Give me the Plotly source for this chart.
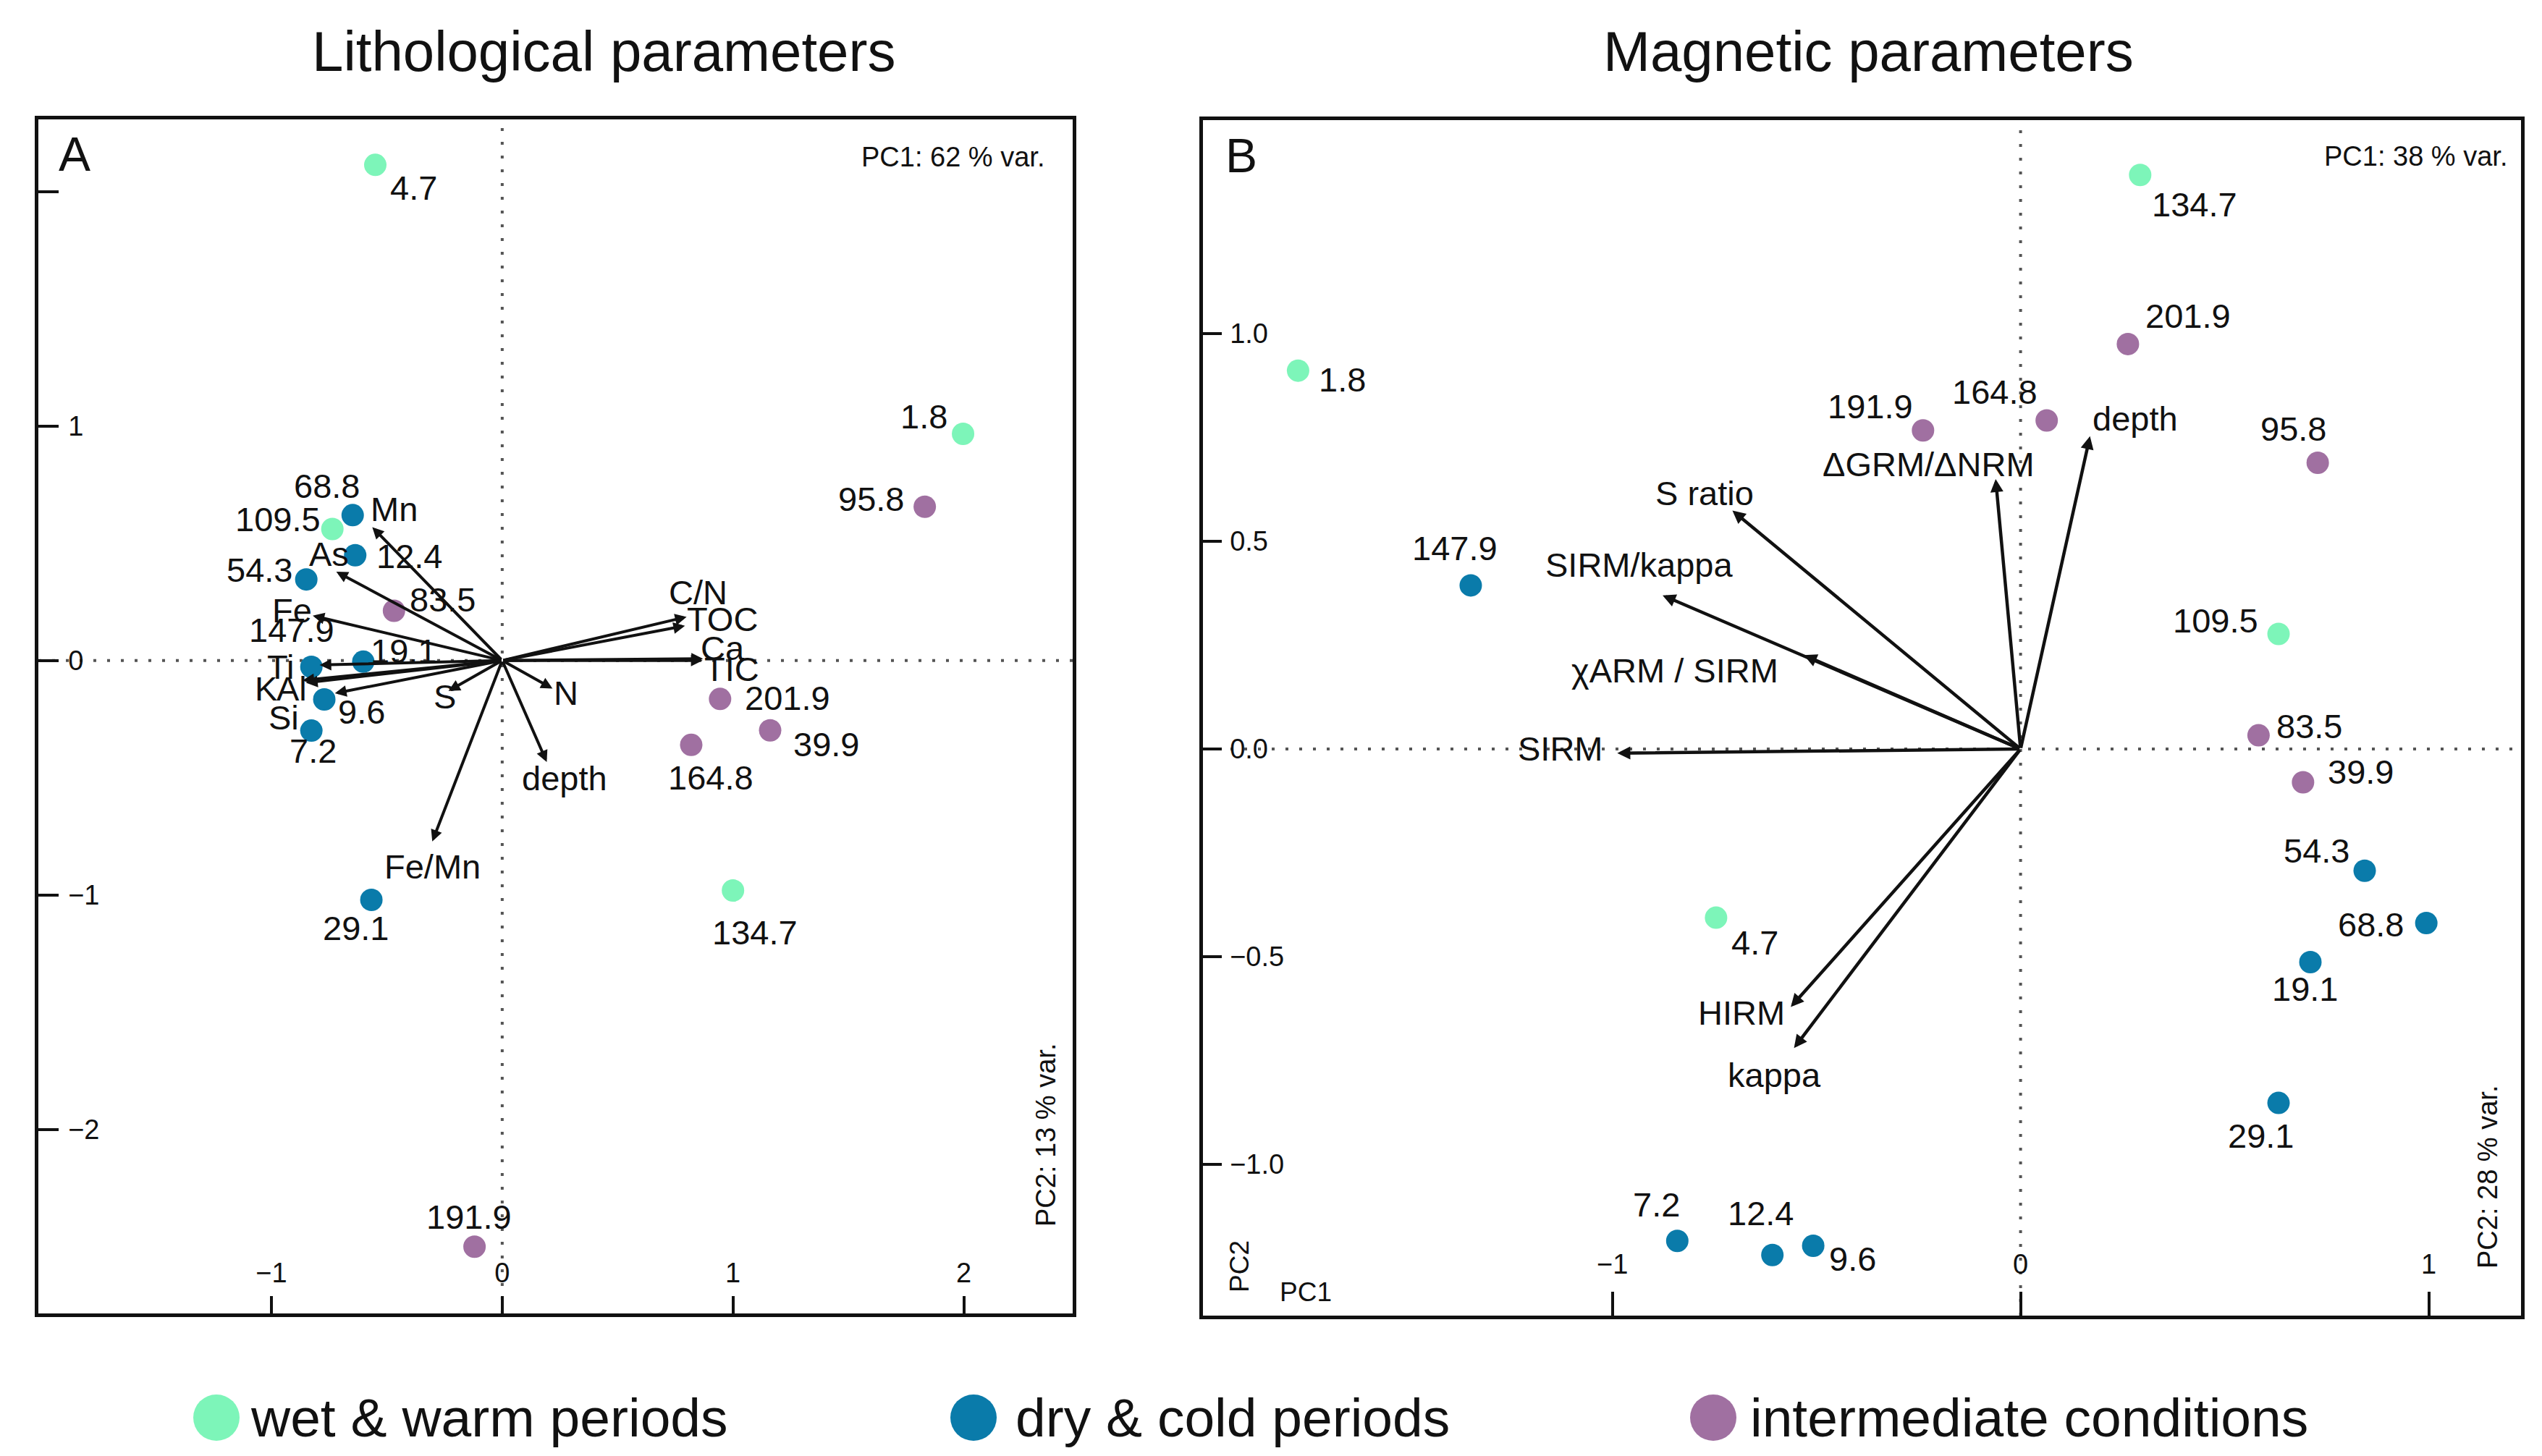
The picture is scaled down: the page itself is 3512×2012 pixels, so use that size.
import plotly.graph_objects as go

W, H = 3512, 2012
FONT = "Liberation Sans, Arial, sans-serif"

# ---------------- data ----------------
group_names = ["wet & warm periods", "dry & cold periods", "intermediate conditions"]
group_colors = ["#7DF5B9", "#0A7BAA", "#A070A1"]

# sample depth label -> group index
sample_group = {
    "1.8": 0, "4.7": 0, "109.5": 0, "134.7": 0,
    "7.2": 1, "9.6": 1, "12.4": 1, "19.1": 1, "29.1": 1, "54.3": 1, "68.8": 1, "147.9": 1,
    "39.9": 2, "83.5": 2, "95.8": 2, "164.8": 2, "191.9": 2, "201.9": 2,
}

# Panel A - lithological parameters (PCA scores)
lith_ids = ["4.7", "1.8", "95.8", "68.8", "109.5", "12.4", "54.3", "83.5", "147.9",
            "19.1", "9.6", "7.2", "201.9", "39.9", "164.8", "134.7", "29.1", "191.9"]
lith_pc1 = [-0.550, 1.997, 1.831, -0.648, -0.736, -0.637, -0.849, -0.469, -0.827,
            -0.602, -0.771, -0.827, 0.944, 1.161, 0.819, 1.000, -0.567, -0.120]
lith_pc2 = [2.114, 0.967, 0.656, 0.620, 0.561, 0.449, 0.346, 0.212, -0.027,
            -0.005, -0.166, -0.299, -0.164, -0.298, -0.360, -0.981, -1.021, -2.500]

# Panel A - loadings (arrow tips)
lith_vars = ["Mn", "As", "Fe", "Ti", "K", "Al", "Si", "S", "N", "depth", "Fe/Mn",
             "C/N", "TOC", "Ca", "TIC"]
lith_load1 = [-0.563, -0.719, -0.821, -0.791, -0.865, -0.850, -0.725, -0.233, 0.218,
              0.193, -0.303, 0.799, 0.792, 0.870, 0.868]
lith_load2 = [0.569, 0.379, 0.191, -0.019, -0.085, -0.095, -0.140, -0.130, -0.120,
              -0.433, -0.772, 0.186, 0.148, 0.008, 0.000]

# Panel B - magnetic parameters (PCA scores)
mag_ids = ["134.7", "201.9", "1.8", "191.9", "164.8", "95.8", "147.9", "109.5", "83.5",
           "39.9", "54.3", "68.8", "19.1", "4.7", "29.1", "7.2", "12.4", "9.6"]
mag_pc1 = [0.293, 0.263, -1.770, -0.239, 0.064, 0.728, -1.347, 0.632, 0.583,
           0.692, 0.843, 0.994, 0.710, -0.746, 0.632, -0.841, -0.608, -0.508]
mag_pc2 = [1.382, 0.975, 0.911, 0.767, 0.791, 0.689, 0.394, 0.277, 0.033,
           -0.080, -0.293, -0.419, -0.513, -0.406, -0.852, -1.184, -1.218, -1.196]

# Panel B - loadings (arrow tips)
mag_vars = ["depth", "ΔGRM/ΔNRM", "S ratio", "SIRM/kappa", "χARM / SIRM", "SIRM", "HIRM", "kappa"]
mag_load1 = [0.170, -0.061, -0.706, -0.877, -0.531, -0.988, -0.563, -0.555]
mag_load2 = [0.753, 0.650, 0.574, 0.370, 0.226, -0.010, -0.621, -0.720]

# axis tick labels
lith_xticks = [-1, 0, 1, 2]
lith_xtext = ["−1", "0", "1", "2"]
lith_yticks = [-2, -1, 0, 1, 2]
lith_ytext = ["−2", "−1", "0", "1", ""]
mag_xticks = [-1, 0, 1]
mag_xtext = ["−1", "0", "1"]
mag_yticks = [-1.0, -0.5, 0.0, 0.5, 1.0]
mag_ytext = ["−1.0", "−0.5", "0.0", "0.5", "1.0"]

# ---------------- label placement (pixel offsets, style only) ----------------
lith_pt_off = [(53, -32), (-54, 24), (-74, 11), (-36, 40), (-75, 13), (75, -1), (-65, 13),
               (67, 16), (-27, 51), (56, 15), (51, -17), (2, -28), (93, 1), (77, -19),
               (27, -45), (30, -58), (-22, -39), (-8, 41)]
lith_var_off = [(30, 25), (-10, 24), (-29, 7), (-54, -3), (-51, -11), (-20, -8), (-71, -33),
                (-5, -8), (19, -6), (25, -22), (0, -35), (16, 34), (52, 9), (27, 15), (40, -12)]
mag_pt_off = [(75, -41), (83, 39), (61, -12), (-73, 33), (-72, 40), (-34, 47), (-22, 51),
              (-87, 19), (70, 13), (80, 14), (-67, 28), (-77, -2), (-8, -37), (54, -34),
              (-25, -45), (-29, 50), (-16, 58), (54, -18)]
mag_var_off = [(63, 24), (-93, 20), (-38, 24), (-33, 42), (-178, -21), (-78, 6), (-68, -8), (-27, -37)]

LABEL_SIZE = 47
MARKER_SIZE = 31


def px(x):
    return x / W


def py(y):
    return 1 - y / H


fig = go.Figure()
annotations = []
shapes = []


def add_panel(ids, pc1, pc2, vars_, l1, l2, pt_off, var_off, xa, ya, arrow_w):
    # arrows
    for v, a, b, (dx, dy) in zip(vars_, l1, l2, var_off):
        annotations.append(dict(
            x=a, y=b, ax=0, ay=0, xref=xa, yref=ya, axref=xa, ayref=ya,
            text="", showarrow=True, arrowhead=2, arrowsize=0.8, arrowwidth=arrow_w,
            arrowcolor="#111111", standoff=0, startstandoff=0))
        annotations.append(dict(
            x=a, y=b, xref=xa, yref=ya, text=v, showarrow=False,
            xshift=dx, yshift=dy, xanchor="center", yanchor="middle",
            font=dict(family=FONT, size=LABEL_SIZE, color="#111111")))
    # points
    for g, name in enumerate(group_names):
        idx = [i for i, s in enumerate(ids) if sample_group[s] == g]
        fig.add_trace(go.Scatter(
            x=[pc1[i] for i in idx], y=[pc2[i] for i in idx],
            mode="markers", name=name, showlegend=False, hoverinfo="skip",
            marker=dict(size=MARKER_SIZE, color=group_colors[g], line=dict(width=0)),
            xaxis=xa, yaxis=ya))
    for s, a, b, (dx, dy) in zip(ids, pc1, pc2, pt_off):
        annotations.append(dict(
            x=a, y=b, xref=xa, yref=ya, text=s, showarrow=False,
            xshift=dx, yshift=dy, xanchor="center", yanchor="middle",
            font=dict(family=FONT, size=LABEL_SIZE, color="#111111")))
    # dotted zero lines
    shapes.append(dict(type="line", xref=xa, yref=ya + " domain", x0=0, x1=0, y0=0, y1=1,
                       line=dict(color="#555555", width=4, dash="4px,15px"), layer="below"))
    shapes.append(dict(type="line", xref=xa + " domain", yref=ya, x0=0, x1=1, y0=0, y1=0,
                       line=dict(color="#555555", width=4, dash="4px,15px"), layer="below"))


add_panel(lith_ids, lith_pc1, lith_pc2, lith_vars, lith_load1, lith_load2,
          lith_pt_off, lith_var_off, "x", "y", 4)
add_panel(mag_ids, mag_pc1, mag_pc2, mag_vars, mag_load1, mag_load2,
          mag_pt_off, mag_var_off, "x2", "y2", 4.5)

tickfont = dict(family=FONT, size=38, color="#111111")


def axis(domain, rng, tickvals, ticktext, ticklen, anchor, standoff):
    return dict(domain=domain, range=rng, anchor=anchor, showgrid=False, zeroline=False,
                showline=True, mirror=True, linewidth=4.5, linecolor="#111111",
                ticks="inside", ticklen=ticklen, tickwidth=4, tickcolor="#111111",
                tickvals=tickvals, ticktext=ticktext, ticklabelposition="inside",
                ticklabelstandoff=standoff, tickfont=tickfont)


texts = [
    ("Lithological parameters", 826, 63, 78, "center", 0),
    ("Magnetic parameters", 2573, 63, 78, "center", 0),
    ("A", 95, 205, 66, "center", 0),
    ("B", 1707, 207, 66, "center", 0),
]
for t, x, y, s, anc, ang in texts:
    annotations.append(dict(x=px(x), y=py(y), xref="paper", yref="paper", text=t,
                            showarrow=False, xanchor=anc, yanchor="middle", textangle=ang,
                            font=dict(family=FONT, size=s, color="#111111")))

small = [
    ("PC1: 62 % var.", 1437, 209, "right", 0),
    ("PC1: 38 % var.", 3458, 208, "right", 0),
    ("PC2: 13 % var.", 1437, 1561, "center", -90),
    ("PC2: 28 % var.", 3429, 1619, "center", -90),
    ("PC2", 1704, 1742, "center", -90),
    ("PC1", 1796, 1777, "center", 0),
]
for t, x, y, anc, ang in small:
    annotations.append(dict(x=px(x), y=py(y), xref="paper", yref="paper", text=t,
                            showarrow=False, xanchor=anc, yanchor="middle", textangle=ang,
                            font=dict(family=FONT, size=38 if "var" in t else 37,
                                      color="#111111")))

# legend (drawn as shapes + text)
legend_cx = [291, 1337, 2359]
legend_tx = [336, 1393, 2408]
LEG_Y, LEG_R = 1951, 32
for name, col, cx, tx in zip(group_names, group_colors, legend_cx, legend_tx):
    shapes.append(dict(type="circle", xref="paper", yref="paper",
                       x0=px(cx - LEG_R), x1=px(cx + LEG_R),
                       y0=py(LEG_Y + LEG_R), y1=py(LEG_Y - LEG_R),
                       fillcolor=col, line=dict(width=0)))
    annotations.append(dict(x=px(tx), y=py(LEG_Y), xref="paper", yref="paper", text=name,
                            showarrow=False, xanchor="left", yanchor="middle",
                            font=dict(family=FONT, size=75, color="#111111")))

fig.update_layout(
    width=W, height=H, margin=dict(l=0, r=0, t=0, b=0),
    paper_bgcolor="white", plot_bgcolor="white", showlegend=False,
    xaxis=axis([px(45), px(1474)], [-2.01, 2.472], lith_xticks, lith_xtext, 24, "y", 16),
    yaxis=axis([py(1807), py(157)], [-2.785, 2.308], lith_yticks, lith_ytext, 28, "x", 18),
    xaxis2=axis([px(1654), px(3475)], [-2.003, 1.226], mag_xticks, mag_xtext, 33, "y2", 22),
    yaxis2=axis([py(1810), py(158)], [-1.364, 1.514], mag_yticks, mag_ytext, 26, "x2", 16),
    annotations=annotations, shapes=shapes,
)

fig.write_html("out.html")
